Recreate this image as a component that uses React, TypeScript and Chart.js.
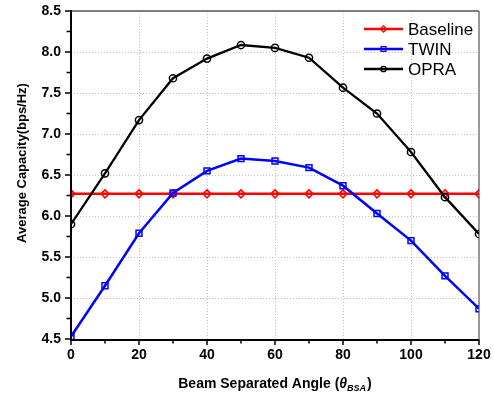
import React, { useEffect, useRef } from "react";
import { Chart, registerables } from "chart.js";

Chart.register(...registerables);

const angles = [0, 10, 20, 30, 40, 50, 60, 70, 80, 90, 100, 110, 120];
const baselineValues = [6.27, 6.27, 6.27, 6.27, 6.27, 6.27, 6.27, 6.27, 6.27, 6.27, 6.27, 6.27, 6.27];
const twinValues = [4.53, 5.15, 5.79, 6.28, 6.55, 6.7, 6.67, 6.59, 6.37, 6.03, 5.7, 5.27, 4.87];
const opraValues = [5.9, 6.52, 7.17, 7.68, 7.92, 8.085, 8.05, 7.93, 7.565, 7.25, 6.78, 6.23, 5.78];

const seriesNames = ["Baseline", "TWIN", "OPRA"];
const xMinorTicks = [10, 30, 50, 70, 90, 110];
const xMajorTicks = [0, 20, 40, 60, 80, 100, 120];
const yMajorTicks = [4.5, 5.0, 5.5, 6.0, 6.5, 7.0, 7.5, 8.0, 8.5];
const yMinorTicks = [4.75, 5.25, 5.75, 6.25, 6.75, 7.25, 7.75, 8.25];

const xTitleMain = "Beam Separated Angle (";
const xTitleSymbol = "\u03B8";
const xTitleSub = "BSA";
const xTitleEnd = ")";
const yTitle = "Average Capacity(bps/Hz)";

const FONT = "'Liberation Sans', Arial, sans-serif";

const legendStyles = [
  { color: "#ff0000", shape: "diamond", width: 2.5 },
  { color: "#0000ff", shape: "square", width: 2.5 },
  { color: "#000000", shape: "circle", width: 2.3 },
];

function drawMarker(ctx: CanvasRenderingContext2D, shape: string, x: number, y: number, r: number) {
  ctx.beginPath();
  if (shape === "diamond") {
    ctx.moveTo(x - r, y);
    ctx.lineTo(x, y - r);
    ctx.lineTo(x + r, y);
    ctx.lineTo(x, y + r);
    ctx.closePath();
  } else if (shape === "square") {
    ctx.rect(x - r * 0.75, y - r * 0.75, r * 1.5, r * 1.5);
  } else {
    ctx.arc(x, y, r * 0.85, 0, Math.PI * 2);
  }
  ctx.stroke();
}

const decorPlugin = {
  id: "decor",
  afterDatasetsDraw(chart: any) {
    const { ctx, chartArea, scales } = chart;
    const { left, right, top, bottom } = chartArea;
    const xs = scales.x;
    const ys = scales.y;
    ctx.save();

    // frame
    ctx.lineCap = "butt";
    ctx.strokeStyle = "#555555";
    ctx.lineWidth = 1.5;
    ctx.beginPath();
    ctx.moveTo(left, top);
    ctx.lineTo(right, top);
    ctx.stroke();
    ctx.strokeStyle = "#333333";
    ctx.lineWidth = 1;
    ctx.beginPath();
    ctx.moveTo(right, top);
    ctx.lineTo(right, bottom);
    ctx.stroke();
    ctx.strokeStyle = "#000000";
    ctx.lineWidth = 2;
    ctx.beginPath();
    ctx.moveTo(left, top - 0.75);
    ctx.lineTo(left, bottom + 1);
    ctx.lineTo(right + 0.5, bottom + 1);
    ctx.stroke();

    // tick marks (outside)
    ctx.lineWidth = 1.5;
    ctx.beginPath();
    xMajorTicks.forEach((v) => {
      const px = xs.getPixelForValue(v);
      ctx.moveTo(px, bottom + 1);
      ctx.lineTo(px, bottom + 6);
    });
    xMinorTicks.forEach((v) => {
      const px = xs.getPixelForValue(v);
      ctx.moveTo(px, bottom + 1);
      ctx.lineTo(px, bottom + 4.5);
    });
    yMajorTicks.forEach((v) => {
      const py = ys.getPixelForValue(v);
      ctx.moveTo(left - 1, py);
      ctx.lineTo(left - 6, py);
    });
    yMinorTicks.forEach((v) => {
      const py = ys.getPixelForValue(v);
      ctx.moveTo(left - 1, py);
      ctx.lineTo(left - 4.5, py);
    });
    ctx.stroke();

    // y title
    ctx.fillStyle = "#000000";
    ctx.save();
    ctx.translate(22, (top + bottom) / 2 - 12);
    ctx.rotate(-Math.PI / 2);
    ctx.font = `bold 13px ${FONT}`;
    ctx.textAlign = "center";
    ctx.textBaseline = "middle";
    ctx.fillText(yTitle, 0, 0);
    ctx.restore();

    // x title
    const baseY = 388;
    const fMain = `bold 14px ${FONT}`;
    const fSym = `italic bold 14px ${FONT}`;
    const fSub = `italic bold 9px ${FONT}`;
    ctx.textAlign = "left";
    ctx.textBaseline = "alphabetic";
    ctx.font = fMain;
    const w1 = ctx.measureText(xTitleMain).width;
    const w4 = ctx.measureText(xTitleEnd).width;
    ctx.font = fSym;
    const w2 = ctx.measureText(xTitleSymbol).width;
    ctx.font = fSub;
    const w3 = ctx.measureText(xTitleSub).width;
    const total = w1 + w2 + w3 + w4 + 1;
    let cx = (left + right) / 2 - total / 2;
    ctx.font = fMain;
    ctx.fillText(xTitleMain, cx, baseY);
    cx += w1;
    ctx.font = fSym;
    ctx.fillText(xTitleSymbol, cx, baseY);
    cx += w2;
    ctx.font = fSub;
    ctx.fillText(xTitleSub, cx, baseY + 3);
    cx += w3 + 1;
    ctx.font = fMain;
    ctx.fillText(xTitleEnd, cx, baseY);

    // legend
    const lx0 = right - 115;
    const lx1 = right - 76;
    const mx = (lx0 + lx1) / 2;
    const tx = right - 71;
    seriesNames.forEach((name, i) => {
      const ly = top + 18 + i * 20;
      const st = legendStyles[i];
      ctx.strokeStyle = st.color;
      ctx.lineWidth = st.width;
      ctx.beginPath();
      ctx.moveTo(lx0, ly);
      ctx.lineTo(lx1, ly);
      ctx.stroke();
      ctx.lineWidth = 1.3;
      drawMarker(ctx, st.shape, mx, ly, 3.2);
      ctx.fillStyle = "#000000";
      ctx.font = `17px ${FONT}`;
      ctx.textAlign = "left";
      ctx.textBaseline = "middle";
      ctx.fillText(name, tx, ly + 1);
    });

    ctx.restore();
  },
};

export default function App() {
  const canvasRef = useRef<HTMLCanvasElement | null>(null);

  useEffect(() => {
    const canvas = canvasRef.current;
    if (!canvas) return;
    const mk = (vals: number[]) => angles.map((a, i) => ({ x: a, y: vals[i] }));
    const chart = new Chart(canvas, {
      type: "line",
      data: {
        datasets: [
          {
            label: seriesNames[0],
            data: mk(baselineValues),
            borderColor: "#ff0000",
            borderWidth: 2.5,
            pointStyle: "rectRot",
            pointRadius: 4,
            pointBorderWidth: 1.5,
            pointBorderColor: "#ff0000",
            pointBackgroundColor: "rgba(0,0,0,0)",
            order: 2,
          },
          {
            label: seriesNames[1],
            data: mk(twinValues),
            borderColor: "#0000ff",
            borderWidth: 2.5,
            pointStyle: "rect",
            pointRadius: 4.2,
            pointBorderWidth: 1.5,
            pointBorderColor: "#0000ff",
            pointBackgroundColor: "rgba(0,0,0,0)",
            order: 1,
          },
          {
            label: seriesNames[2],
            data: mk(opraValues),
            borderColor: "#000000",
            borderWidth: 2.3,
            pointStyle: "circle",
            pointRadius: 3.6,
            pointBorderWidth: 1.5,
            pointBorderColor: "#000000",
            pointBackgroundColor: "rgba(0,0,0,0)",
            order: 0,
          },
        ],
      },
      options: {
        responsive: false,
        animation: false,
        layout: { padding: { top: 11, right: 15, left: 0, bottom: 0 } },
        plugins: {
          legend: { display: false },
          tooltip: { enabled: false },
        },
        scales: {
          x: {
            type: "linear",
            min: 0,
            max: 120,
            afterFit: (s: any) => {
              s.height = 57;
              s.paddingLeft = 0;
              s.paddingRight = 0;
              s.paddingTop = 0;
              s.paddingBottom = 0;
            },
            ticks: {
              stepSize: 20,
              padding: 8,
              color: "#000000",
              font: { family: FONT, size: 14, weight: "bold" },
              maxRotation: 0,
            },
            grid: {
              color: (c: any) =>
                c.tick && (c.tick.value === 0 || c.tick.value === 120) ? "rgba(0,0,0,0)" : "#c4c4c4",
              lineWidth: 1,
              drawTicks: false,
            },
            border: { display: false, dash: [1, 2] },
          },
          y: {
            type: "linear",
            min: 4.5,
            max: 8.5,
            afterFit: (s: any) => {
              s.width = 71;
              s.paddingLeft = 0;
              s.paddingRight = 0;
              s.paddingTop = 0;
              s.paddingBottom = 0;
            },
            ticks: {
              stepSize: 0.5,
              padding: 10,
              color: "#000000",
              font: { family: FONT, size: 14, weight: "bold" },
              callback: (v: any) => Number(v).toFixed(1),
            },
            grid: {
              color: (c: any) =>
                c.tick && (c.tick.value === 4.5 || c.tick.value === 8.5) ? "rgba(0,0,0,0)" : "#c4c4c4",
              lineWidth: 1,
              drawTicks: false,
            },
            border: { display: false, dash: [1, 2] },
          },
        },
      },
      plugins: [decorPlugin],
    } as any);
    return () => chart.destroy();
  }, []);

  return (
    <canvas
      ref={canvasRef}
      width={494}
      height={396}
      style={{ position: "absolute", left: 0, top: 0, display: "block" }}
    />
  );
}
